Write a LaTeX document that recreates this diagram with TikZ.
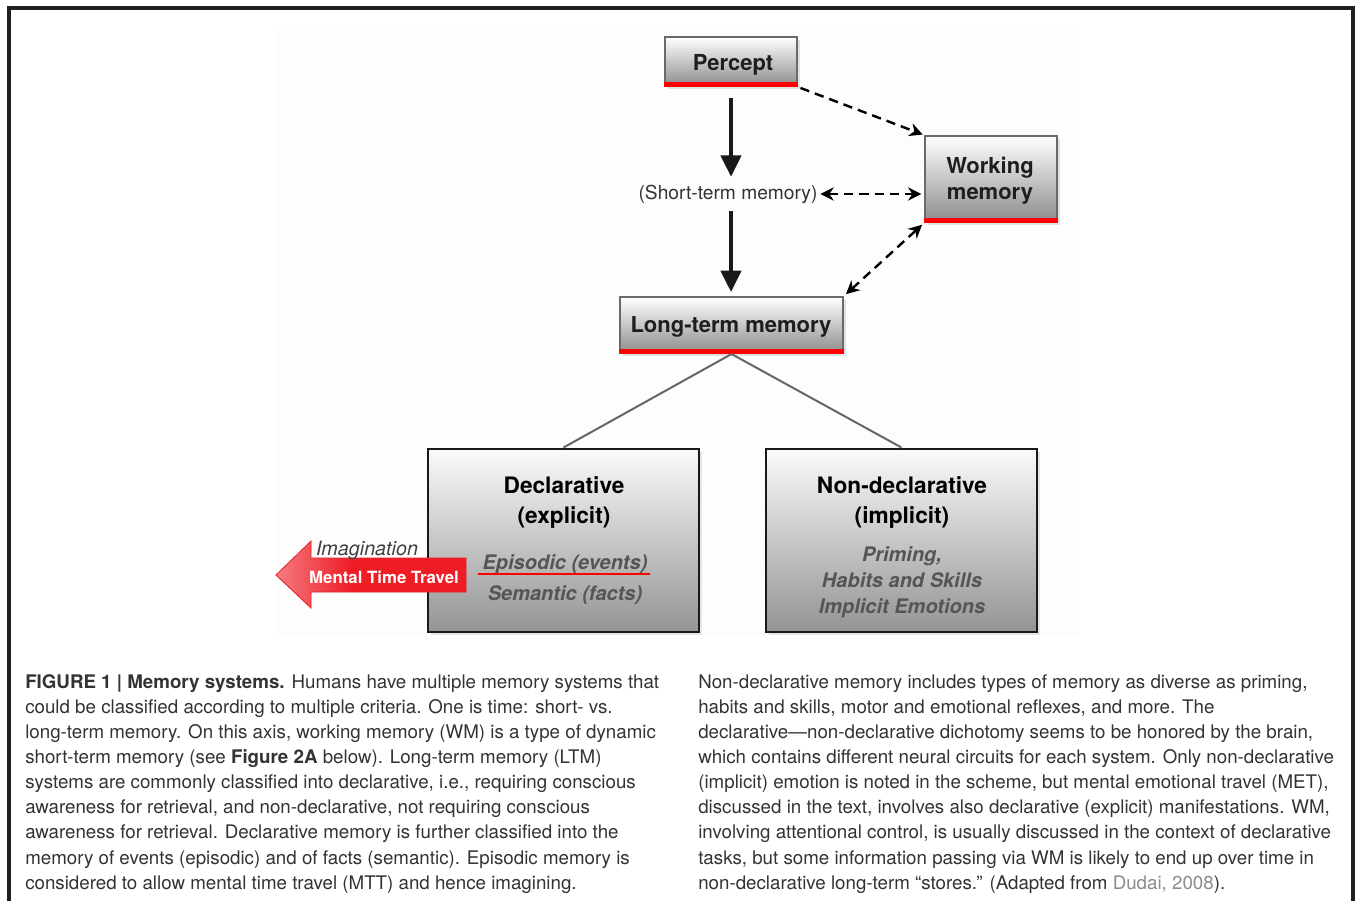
\documentclass[tikz,border=0pt]{standalone}
\usepackage{fontspec}
\setmainfont{TeX Gyre Heros}
\newfontfamily\capfont{TeX Gyre Heros}
\usetikzlibrary{arrows.meta,shadows}
\definecolor{framec}{HTML}{231F20}
\definecolor{capc}{HTML}{333333}
\definecolor{boxedge}{HTML}{6A6A6A}
\definecolor{labc}{HTML}{1E1E1E}
\definecolor{subc}{HTML}{555555}
\definecolor{mttred}{HTML}{EE1C25}
\pgfdeclarehorizontalshading{mttshade}{100bp}{color(0bp)=(mttred!5); color(45bp)=(mttred); color(100bp)=(mttred)}
\begin{document}
\begin{tikzpicture}[x=0.75pt,y=-0.75pt,
  smallbox/.style={draw=boxedge, line width=1.5pt, top color=white, bottom color=black!45,
    drop shadow={opacity=0.22, shadow xshift=2.5pt, shadow yshift=-2.5pt}, inner sep=0pt},
  bigbox/.style={draw=black!90, line width=2.2pt, top color=white!98!black, bottom color=black!42,
    drop shadow={opacity=0.18, shadow xshift=2.5pt, shadow yshift=-2.5pt}, inner sep=0pt},
  redbar/.style={fill=red},
  boxlab/.style={font=\bfseries\fontsize{16.5}{19.5}\selectfont, text=labc, align=center, inner sep=0pt},
  biglab/.style={font=\bfseries\fontsize{17}{22.5}\selectfont, text=black, align=center, inner sep=0pt},
  sublab/.style={font=\bfseries\itshape\fontsize{15}{19.5}\selectfont, text=subc, align=center, inner sep=0pt},
  bigarrow/.style={line width=3pt, draw=black!90, -{Triangle[length=16pt,width=15pt]}},
  dasharrow/.style={line width=1.8pt, draw=black, dash pattern=on 7pt off 4.5pt, -{Stealth[length=10pt,width=10pt]}},
  dashboth/.style={dasharrow, {Stealth[length=10pt,width=10pt]}-{Stealth[length=10pt,width=10pt]}},
  treeline/.style={line width=1.5pt, draw=black!60},
  capline/.style={anchor=base west, inner sep=0pt, font=\capfont\fontsize{14.05}{16}\selectfont, text=capc}
]
\useasboundingbox (0,0) rectangle (1355,901);
\fill[white] (0,0) rectangle (1355,901);
% outer frame
\draw[framec, line width=2.3pt] (9,901) -- (9,8) -- (1353,8) -- (1353,901);
% faint backdrop of the figure image
\fill[black!0.7] (275,25) rectangle (1080,635);

% boxes
\node[smallbox, minimum width=99pt, minimum height=36.75pt] (P) at (731,61.5) {};
\node[smallbox, minimum width=99pt, minimum height=64.5pt] (WM) at (991,179) {};
\node[smallbox, minimum width=167.25pt, minimum height=42pt] (LTM) at (731.5,325) {};
\fill[redbar] (P.south west) rectangle ([yshift=3.75pt]P.south east);
\fill[redbar] (WM.south west) rectangle ([yshift=3.75pt]WM.south east);
\fill[redbar] (LTM.south west) rectangle ([yshift=3.75pt]LTM.south east);

\node[boxlab] (Ptxt) at (733,65) {Percept};
\node[boxlab] (WMtxt) at (990,181) {Working\\memory};
\node[boxlab] (LTMtxt) at (731,327) {Long-term memory};

\node[font=\fontsize{14.4}{17}\selectfont, text=black!80, inner sep=0pt, minimum height=25.5pt] (STM) at (728,194) {(Short-term memory)};

% arrows
\draw[bigarrow, shorten <=8pt] (P.south) -- (P.south |- STM.north);
\draw[bigarrow, shorten >=3pt] (P.south |- STM.south) -- (P.south |- LTM.north);
\draw[dasharrow, shorten <=2pt, shorten >=1pt] (P.south east) -- (WM.north west);
\draw[dashboth, shorten <=2pt, shorten >=2pt] (STM.east) -- (STM.east -| WM.west);
\draw[dashboth, shorten <=2pt, shorten >=2pt] (LTM.north east) -- (WM.south west);

% lower boxes
\node[bigbox, minimum width=203.25pt, minimum height=137.25pt] (D) at (563.5,540.5) {};
\node[bigbox, minimum width=203.25pt, minimum height=137.25pt] (N) at (901.5,540.5) {};
\draw[treeline] (LTM.south) -- (D.north);
\draw[treeline] (LTM.south) -- (N.north);

\node[biglab] (Dtxt) at (564,503) {Declarative\\(explicit)};
\node[biglab] (Ntxt) at (902,503) {Non-declarative\\(implicit)};
\node[sublab] (Epi) at (565,564) {Episodic (events)};
\node[sublab] (Sem) at (565,595) {Semantic (facts)};
\draw[red, line width=1.8pt] (478,574) -- (650,574);
\node[sublab] (Nsub) at (902,582) {Priming,\\Habits and Skills\\Implicit Emotions};

% mental time travel arrow
\shade[shading=mttshade, draw=mttred, line width=0.6pt]
  (466,558) -- (311,558) -- (311,541) -- (276,575) -- (311,608) -- (311,592) -- (466,592) -- cycle;
\node[font=\bfseries\fontsize{12.6}{15}\selectfont, text=white, inner sep=0pt] (MTT) at (384,577) {Mental Time Travel};
\node[font=\itshape\fontsize{14.8}{17}\selectfont, text=black!75, inner sep=0pt] (Imag) at (367,550) {Imagination};

% caption, left column
\node[capline] (cl1) at (25,688) {\textbf{FIGURE 1 | Memory systems.} Humans have multiple memory systems that};
\node[capline] (cl2) at (25,713.1) {could be classified according to multiple criteria. One is time: short- vs.};
\node[capline] (cl3) at (25,738.3) {long-term memory. On this axis, working memory (WM) is a type of dynamic};
\node[capline] (cl4) at (25,763.4) {short-term memory (see \textbf{Figure 2A} below). Long-term memory (LTM)};
\node[capline] (cl5) at (25,788.6) {systems are commonly classified into declarative, i.e., requiring conscious};
\node[capline] (cl6) at (25,813.7) {awareness for retrieval, and non-declarative, not requiring conscious};
\node[capline] (cl7) at (25,838.9) {awareness for retrieval. Declarative memory is further classified into the};
\node[capline] (cl8) at (25,864) {memory of events (episodic) and of facts (semantic). Episodic memory is};
\node[capline] (cl9) at (25,889.2) {considered to allow mental time travel (MTT) and hence imagining.};
% caption, right column
\node[capline] (cr1) at (698,688) {Non-declarative memory includes types of memory as diverse as priming,};
\node[capline] (cr2) at (698,713.1) {habits and skills, motor and emotional reflexes, and more. The};
\node[capline] (cr3) at (698,738.3) {declarative—non-declarative dichotomy seems to be honored by the brain,};
\node[capline] (cr4) at (698,763.4) {which contains different neural circuits for each system. Only non-declarative};
\node[capline] (cr5) at (698,788.6) {(implicit) emotion is noted in the scheme, but mental emotional travel (MET),};
\node[capline] (cr6) at (698,813.7) {discussed in the text, involves also declarative (explicit) manifestations. WM,};
\node[capline] (cr7) at (698,838.9) {involving attentional control, is usually discussed in the context of declarative};
\node[capline] (cr8) at (698,864) {tasks, but some information passing via WM is likely to end up over time in};
\node[capline] (cr9) at (698,889.2) {non-declarative long-term “stores.” (Adapted from \textcolor{black!45}{Dudai, 2008}).};
\end{tikzpicture}
\end{document}
